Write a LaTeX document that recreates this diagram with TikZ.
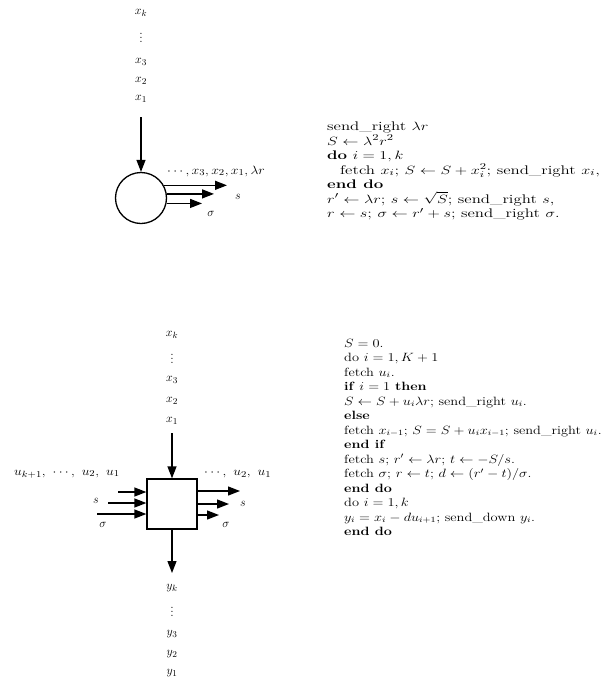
\documentclass[tikz,border=0pt]{standalone}
\usepackage{graphicx}
\usetikzlibrary{arrows.meta}
\newcommand{\coda}{\fontsize{12.5}{14}\selectfont}
\newcommand{\codb}{\fontsize{12}{14}\selectfont}
\newcommand{\lab}{\fontsize{12.5}{13}\selectfont}
\newcommand{\ca}[1]{\scalebox{1.35}[1]{#1}}
\newcommand{\cb}[1]{\scalebox{1.2}[1]{#1}}
\newcommand{\wl}[1]{\scalebox{1.15}[1]{#1}}
\newcommand{\vd}{\smash{$\vdots$}}
\tikzset{
  lbl/.style={inner sep=0pt, font=\lab},
  codea/.style={anchor=base west, inner sep=0pt, font=\coda},
  codeb/.style={anchor=base west, inner sep=0pt, font=\codb},
  arr/.style={line width=1.3pt, -{Triangle[length=12pt,width=9pt]}},
  thick line/.style={line width=1.3pt},
}
\begin{document}
\begin{tikzpicture}[x=1pt,y=-1pt]
\useasboundingbox (0,0) rectangle (610,681);
% ---------- diagram 1 ----------
\node[lbl] (xk) at (141,13) {$x_k$};
\node[lbl, anchor=base] (xd) at (141,42) {\vd};
\node[lbl] (x3) at (141,62) {$x_3$};
\node[lbl] (x2) at (141,81) {$x_2$};
\node[lbl] (x1) at (141,99) {$x_1$};
\node[draw, circle, thick line, minimum size=51pt, inner sep=0pt] (circ) at (141,198) {};
\coordinate (a1) at (141,117);
\draw[arr] (a1) -- (circ.north);
\coordinate (e1) at (227,186);
\coordinate (e2) at (214,194);
\coordinate (e3) at (202,203);
\draw[arr] (circ.29) -- (circ.29 -| e1);
\draw[arr] (circ.9) -- (circ.9 -| e2);
\draw[arr] (circ.-12) -- (circ.-12 -| e3);
\node[lbl, anchor=west] (seq1) at (167,171) {\wl{$\cdots, x_3, x_2, x_1, \lambda r$}};
\node[lbl] (s1) at (238,197) {$s$};
\node[lbl] (sg1) at (211,214) {$\sigma$};
% code 1
\node[codea] (p1) at (327,130.5) {\ca{send\_right $\lambda r$}};
\node[codea] (p2) at (327,145) {\ca{$S \leftarrow \lambda^2 r^2$}};
\node[codea] (p3) at (327,159.5) {\ca{\textbf{do} $i = 1, k$}};
\node[codea] (p4) at (340,174) {\ca{fetch $x_i$; $S \leftarrow S + x_i^2$; send\_right $x_i$,}};
\node[codea] (p5) at (327,188.5) {\ca{\textbf{end do}}};
\node[codea] (p6) at (327,203) {\ca{$r' \leftarrow \lambda r$; $s \leftarrow \sqrt{S}$; send\_right $s$,}};
\node[codea] (p7) at (327,217.5) {\ca{$r \leftarrow s$; $\sigma \leftarrow r' + s$; send\_right $\sigma$.}};
% ---------- diagram 2 ----------
\node[lbl] (txk) at (172,335) {$x_k$};
\node[lbl, anchor=base] (txd) at (172,363) {\vd};
\node[lbl] (tx3) at (172,380) {$x_3$};
\node[lbl] (tx2) at (172,401) {$x_2$};
\node[lbl] (tx1) at (172,421) {$x_1$};
\node[draw, thick line, minimum width=50pt, minimum height=50pt, inner sep=0pt] (box) at (172,504) {};
\coordinate (b1) at (172,433);
\draw[arr] (b1) -- (box.north);
\coordinate (l1) at (118,492);
\coordinate (l2) at (108,503);
\coordinate (l3) at (97,514);
\draw[arr] (l1) -- (l1 -| box.west);
\draw[arr] (l2) -- (l2 -| box.west);
\draw[arr] (l3) -- (l3 -| box.west);
\coordinate (r1) at (240,491);
\coordinate (r2) at (229,504);
\coordinate (r3) at (219,515);
\draw[arr] (r1 -| box.east) -- (r1);
\draw[arr] (r2 -| box.east) -- (r2);
\draw[arr] (r3 -| box.east) -- (r3);
\coordinate (d1) at (172,573);
\draw[arr] (box.south) -- (d1);
\node[lbl, anchor=west] (useq) at (14,474) {\wl{$u_{k+1},\ \cdots,\ u_2,\ u_1$}};
\node[lbl] (s2l) at (96,501) {$s$};
\node[lbl] (sg2l) at (103,525) {$\sigma$};
\node[lbl, anchor=west] (useqr) at (204,474) {\wl{$\cdots,\ u_2,\ u_1$}};
\node[lbl] (s2r) at (243,504) {$s$};
\node[lbl] (sg2r) at (226,525) {$\sigma$};
\node[lbl] (yk) at (172,588) {$y_k$};
\node[lbl, anchor=base] (yd) at (172,616) {\vd};
\node[lbl] (y3) at (172,634) {$y_3$};
\node[lbl] (y2) at (172,654) {$y_2$};
\node[lbl] (y1) at (172,673) {$y_1$};
% code 2
\node[codeb] (q1) at (344,347) {\cb{$S = 0.$}};
\node[codeb] (q2) at (344,361.5) {\cb{do $i = 1, K+1$}};
\node[codeb] (q3) at (344,376) {\cb{fetch $u_i$.}};
\node[codeb] (q4) at (344,390.5) {\cb{\textbf{if} $i = 1$ \textbf{then}}};
\node[codeb] (q5) at (344,405) {\cb{$S \leftarrow S + u_i \lambda r$; send\_right $u_i$.}};
\node[codeb] (q6) at (344,419.5) {\cb{\textbf{else}}};
\node[codeb] (q7) at (344,434) {\cb{fetch $x_{i-1}$; $S = S + u_i x_{i-1}$; send\_right $u_i$.}};
\node[codeb] (q8) at (344,448.5) {\cb{\textbf{end if}}};
\node[codeb] (q9) at (344,463) {\cb{fetch $s$; $r' \leftarrow \lambda r$; $t \leftarrow -S/s$.}};
\node[codeb] (q10) at (344,477.5) {\cb{fetch $\sigma$; $r \leftarrow t$; $d \leftarrow (r' - t)/\sigma$.}};
\node[codeb] (q11) at (344,492) {\cb{\textbf{end do}}};
\node[codeb] (q12) at (344,506.5) {\cb{do $i = 1, k$}};
\node[codeb] (q13) at (344,521) {\cb{$y_i = x_i - d u_{i+1}$; send\_down $y_i$.}};
\node[codeb] (q14) at (344,535.5) {\cb{\textbf{end do}}};
\end{tikzpicture}
\end{document}
